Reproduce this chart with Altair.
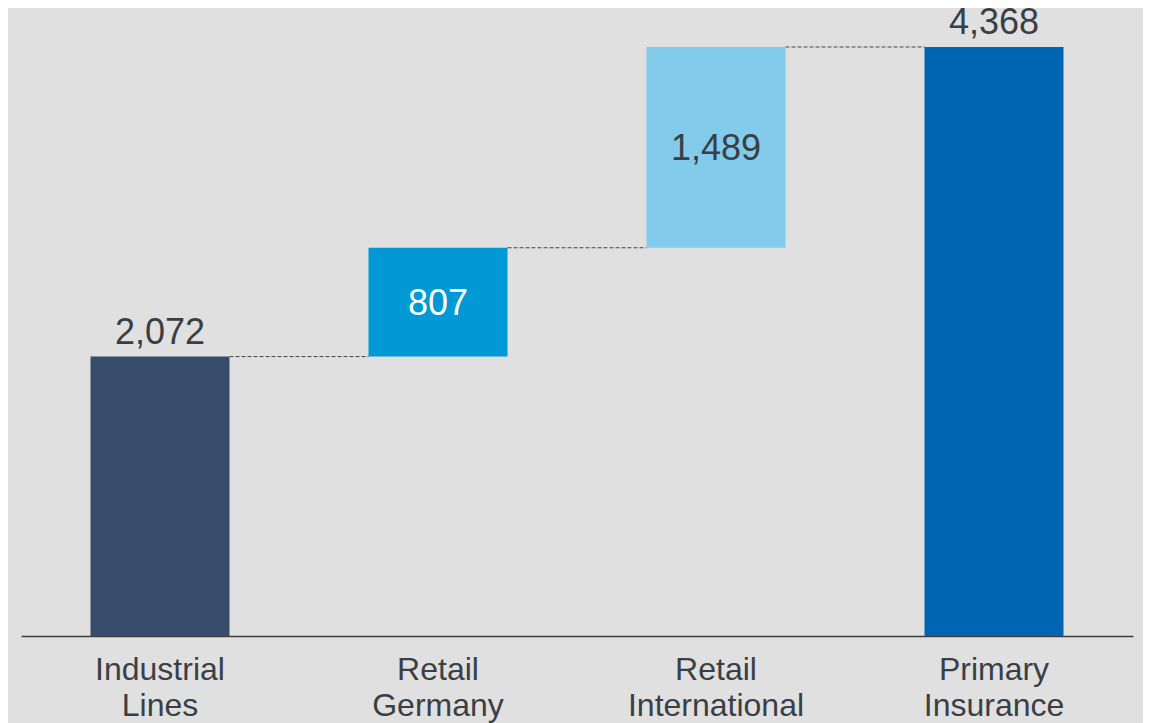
import altair as alt
import pandas as pd

categories = ["Industrial Lines", "Retail Germany", "Retail International", "Primary Insurance"]
values = [2072, 807, 1489, 4368]
kinds = ["total", "step", "step", "total"]
label_text = ["2,072", "807", "1,489", "4,368"]
bar_colors = ["#384c6b", "#0099d6", "#82cbea", "#0066b3"]
label_colors = ["#3a3f45", "#ffffff", "#3a3f45", "#3a3f45"]

starts, ends = [], []
running = 0
for v, k in zip(values, kinds):
    if k == "total":
        starts.append(0)
        ends.append(v)
        running = v
    else:
        starts.append(running)
        running += v
        ends.append(running)

df = pd.DataFrame({
    "cat": categories,
    "start": starts,
    "end": ends,
    "mid": [(s + e) / 2 for s, e in zip(starts, ends)],
    "label": label_text,
    "kind": kinds,
    "color": bar_colors,
    "lcolor": label_colors,
})

conn = pd.DataFrame({
    "cat": categories[:-1],
    "next": categories[1:],
    "level": ends[:-1],
})

FONT = "Liberation Sans"
xscale = alt.Scale(domain=categories, paddingInner=0.5, paddingOuter=0.25)
yscale = alt.Scale(domain=[0, 4657], nice=False, zero=True)

xaxis = alt.Axis(
    title=None, labelAngle=0, labelExpr="split(datum.label, ' ')",
    labelFont=FONT, labelFontSize=32, labelColor="#3a3f45", labelLineHeight=36,
    labelPadding=18, labelLimit=0, ticks=False, tickSize=0, grid=False,
    domainColor="#3c3c3c", domainWidth=1.5,
)

bars = alt.Chart(df).mark_bar().encode(
    x=alt.X("cat:N", scale=xscale, axis=xaxis),
    y=alt.Y("start:Q", scale=yscale, axis=None),
    y2="end:Q",
    color=alt.Color("color:N", scale=None, legend=None),
)

connectors = alt.Chart(conn).mark_rule(
    strokeDash=[4, 2], color="#444444", strokeWidth=1
).encode(
    x=alt.X("cat:N", scale=xscale, bandPosition=1),
    x2=alt.X2("next:N", bandPosition=0),
    y=alt.Y("level:Q", scale=yscale),
)

top_labels = alt.Chart(df).transform_filter(
    alt.datum.kind == "total"
).mark_text(
    font=FONT, fontSize=36, baseline="alphabetic", dy=-13, align="center"
).encode(
    x=alt.X("cat:N", scale=xscale),
    y=alt.Y("end:Q", scale=yscale),
    text="label:N",
    color=alt.Color("lcolor:N", scale=None, legend=None),
)

mid_labels = alt.Chart(df).transform_filter(
    alt.datum.kind == "step"
).mark_text(
    font=FONT, fontSize=36, baseline="middle", dy=2, align="center"
).encode(
    x=alt.X("cat:N", scale=xscale),
    y=alt.Y("mid:Q", scale=yscale),
    text="label:N",
    color=alt.Color("lcolor:N", scale=None, legend=None),
)

chart = alt.layer(bars, connectors, top_labels, mid_labels).properties(
    width=1112,
    height=628,
    padding={"left": 13, "top": 0, "right": 10, "bottom": 87},
    autosize="none",
).configure(background="#e0e0e0").configure_view(stroke=None)

chart.save("out.html", embed_options={"renderer": "svg", "actions": False})
